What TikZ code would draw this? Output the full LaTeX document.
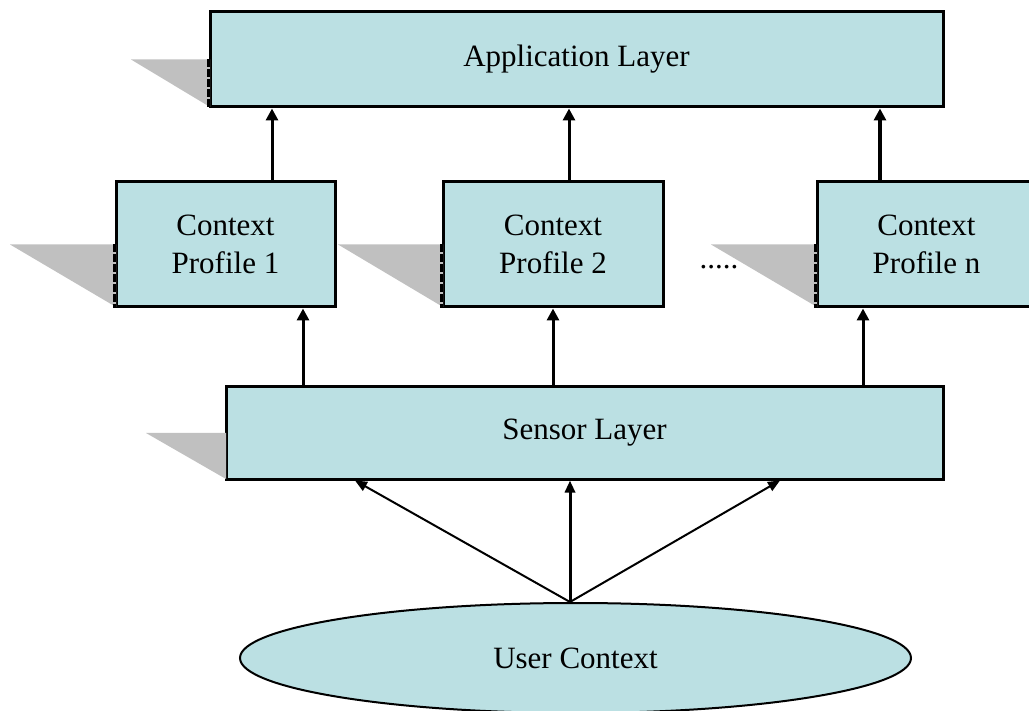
\documentclass[tikz,border=0pt]{standalone}
\usepackage{fontspec}
\setmainfont{Liberation Serif}
\usetikzlibrary{positioning,arrows.meta,shapes.geometric}

\definecolor{layerfill}{RGB}{187,224,227}
\definecolor{shade}{RGB}{192,192,192}

\begin{document}
\begin{tikzpicture}[
  x=0.5pt, y=-0.5pt,
  font=\fontsize{15.5}{19}\selectfont,
  box/.style={draw, line width=1.5pt, fill=layerfill, align=center, inner sep=0pt},
  profile/.style={box, minimum width=109.5pt, minimum height=62.5pt},
  wedge/.style={fill=shade},
  up/.style={-{Triangle[width=6pt,length=6pt]}, line width=1.5pt},
  thin up/.style={-{Triangle[width=5pt,length=6pt]}, line width=1pt}
]
\useasboundingbox (0,0) rectangle (1029,711);
\clip (0,0) rectangle (1029,711);

% layers
\node[box, minimum width=366.5pt, minimum height=47.5pt] (app) at (576.5,59.5) {Application Layer};
\node[profile] (p1) at (225.5,244.5) {Context\\Profile 1};
\node[profile, minimum width=110pt] (p2) at (553,244.5) {Context\\Profile 2};
\node[profile] (pn) at (926.5,244.5) {Context\\Profile n};
\node[anchor=base] (dots) at (719,269) {.....};
\node[box, minimum width=358.5pt, minimum height=46pt] (sensor) at (584.5,433) {Sensor Layer};
\node[ellipse, draw, line width=1pt, fill=layerfill, inner sep=0pt,
      minimum width=335.5pt, minimum height=55pt] (user) at (575.5,658) {User Context};

% grey wedges on the left of each box
\foreach \n/\w in {app/79, p1/106, p2/105, pn/106, sensor/80}
  \fill[wedge] ([xshift=0.75pt]\n.west) -- ++(-\w,0)
    -- ([xshift=0.75pt,yshift=0.75pt]\n.south west) -- cycle;
\foreach \n in {app, p1, p2, pn}
  \draw[line width=1.5pt, dash pattern=on 4pt off 1pt] (\n.west) -- (\n.south west);

% profiles -> application
\draw[up] ([xshift=23.25pt]p1.north) -- ([xshift=23.25pt]p1.north |- app.south);
\draw[up] ([xshift=8pt]p2.north) -- ([xshift=8pt]p2.north |- app.south);
\draw[up, line width=2.25pt] ([xshift=-23.25pt]pn.north) -- ([xshift=-23.25pt]pn.north |- app.south);

% sensor -> profiles
\draw[up] ([xshift=38.75pt]p1.south |- sensor.north) -- ([xshift=38.75pt]p1.south);
\draw[up] (p2.south |- sensor.north) -- (p2.south);
\draw[up] ([xshift=-31.75pt]pn.south |- sensor.north) -- ([xshift=-31.75pt]pn.south);

% user context -> sensor
\draw[thin up] ([xshift=-2.75pt]user.north) -- ([xshift=-114.75pt]sensor.south);
\draw[thin up, line width=1.5pt] ([xshift=-2.75pt]user.north) -- ([xshift=-7.25pt]sensor.south);
\draw[thin up] ([xshift=-2.75pt]user.north) -- ([xshift=97.75pt]sensor.south);
\end{tikzpicture}
\end{document}
